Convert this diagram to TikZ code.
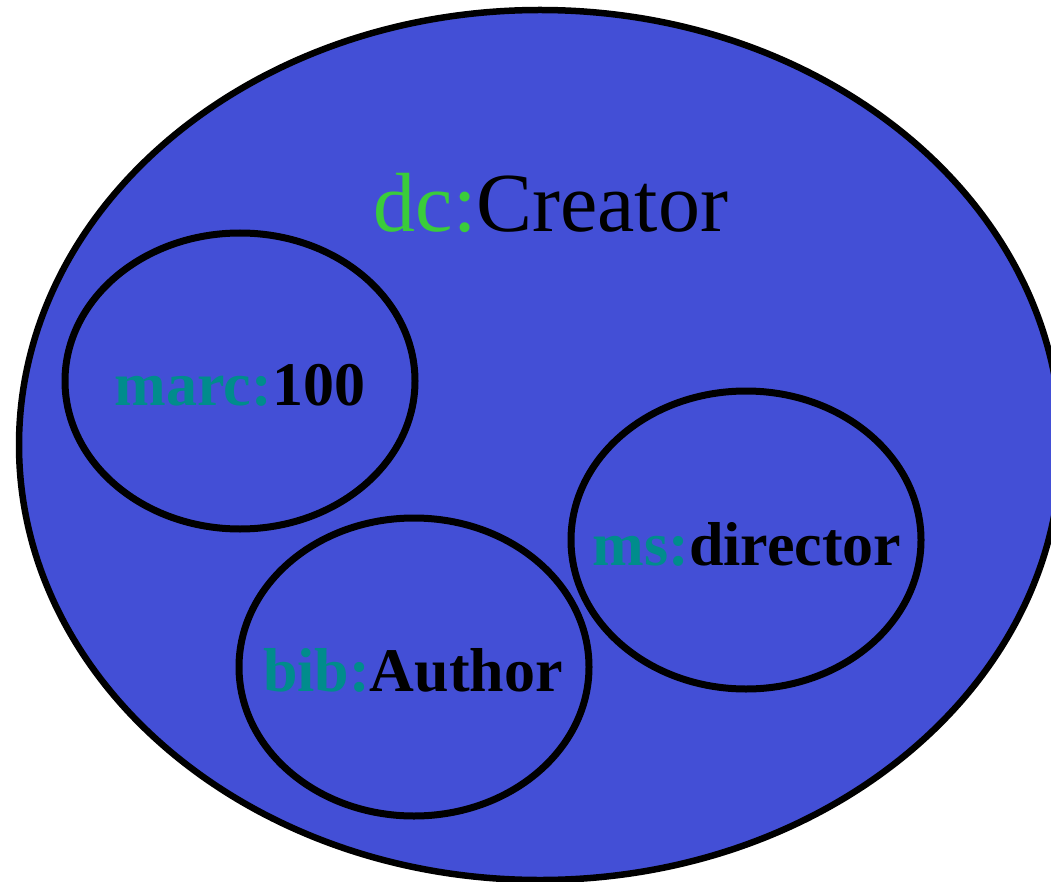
\documentclass[tikz,border=0pt]{standalone}
\usepackage{fontspec}
\setmainfont{Liberation Serif}
\definecolor{setblue}{RGB}{67,79,214}
\definecolor{dcgreen}{RGB}{58,204,58}
\definecolor{nsteal}{RGB}{0,140,140}
\begin{document}
\begin{tikzpicture}[x=1pt,y=-1pt,
  outerset/.style={draw=black,fill=setblue,line width=6.5pt},
  innerset/.style={draw=black,line width=7pt},
  biglabel/.style={anchor=base,inner sep=0pt,font=\fontsize{84}{90}\selectfont},
  smalllabel/.style={anchor=base,inner sep=0pt,font=\fontsize{62}{70}\selectfont\bfseries}]
\useasboundingbox (0,0) rectangle (1051,882);
\path[outerset] (540,445) ellipse [x radius=521, y radius=435];
\path[innerset] (240,381) ellipse [x radius=175, y radius=148];
\path[innerset] (414,667) ellipse [x radius=175, y radius=149];
\path[innerset] (746,540) ellipse [x radius=175, y radius=149];
\node[biglabel] (creator) at (551,232) {\textcolor{dcgreen}{dc:}Creator};
\node[smalllabel] (marc) at (240,405) {\textcolor{nsteal}{marc:}100};
\node[smalllabel] (bib) at (413,691) {\textcolor{nsteal}{bib:}Author};
\node[smalllabel] (ms) at (747,565) {\textcolor{nsteal}{ms:}director};
\end{tikzpicture}
\end{document}
